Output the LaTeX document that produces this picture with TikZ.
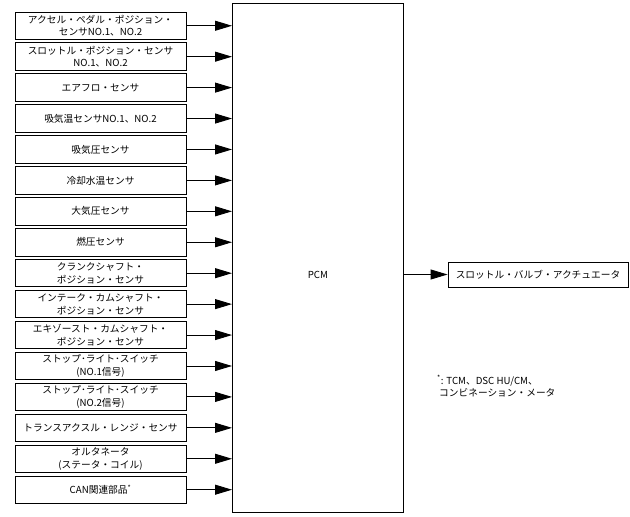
\documentclass[tikz,border=0pt]{standalone}
\usepackage{fontspec}
\setmainfont{Noto Sans CJK JP}
\usetikzlibrary{arrows.meta}
\tikzset{font={\fontsize{9.7pt}{12.6pt}\selectfont},
	inbox/.style={draw, line width=0.9pt, minimum width=171pt, minimum height=27.5pt, align=center, inner sep=1pt},
	sig/.style={line width=0.9pt, -{Triangle[length=17pt,width=10pt]}}}

\begin{document}
\begin{tikzpicture}[x=1pt,y=-1pt]
		\useasboundingbox (0,0) rectangle (630,517);
		%PCM
		\node[draw, line width=0.9pt, minimum width=171pt, minimum height=509pt, anchor=north west] (pcm) at (232,3) {};
		%Actuator
		\node[inbox, minimum width=180pt, minimum height=25pt] (act) at (538,274.5) {スロットル・バルブ・アクチュエータ};
		\node (pcmtext) at (pcm.center |- act.center) {PCM};
		\draw[sig] (pcm.east |- act.west) -- (act.west);
		%Sensor boxes
		\foreach \i/\txt in {1/{アクセル・ペダル・ポジション・\\センサNO.1、NO.2},
			2/{スロットル・ポジション・センサ\\NO.1、NO.2},
			3/{エアフロ・センサ},
			4/{吸気温センサNO.1、NO.2},
			5/{吸気圧センサ},
			6/{冷却水温センサ},
			7/{大気圧センサ},
			8/{燃圧センサ},
			9/{クランクシャフト・\\ポジション・センサ},
			10/{インテーク・カムシャフト・\\ポジション・センサ},
			11/{エキゾースト・カムシャフト・\\ポジション・センサ},
			12/{ストップ･ライト･スイッチ\\(NO.1信号)},
			13/{ストップ･ライト･スイッチ\\(NO.2信号)},
			14/{トランスアクスル・レンジ・センサ},
			15/{オルタネータ\\(ステータ・コイル)},
			16/{CAN関連部品\textsuperscript{*}}}
		{
		\node[inbox] (s\i) at (100.5, 25.75 + \i * 30.93 - 30.93) {\txt};
		\draw[sig] (s\i.east) -- (s\i.east -| pcm.west);
		}
		%Note
		\node[align=left, anchor=north west, inner sep=0pt] (note) at (437,375) {\textsuperscript{*}: TCM、DSC HU/CM、\\\hspace{2pt}コンビネーション・メータ};
\end{tikzpicture}
\end{document}
